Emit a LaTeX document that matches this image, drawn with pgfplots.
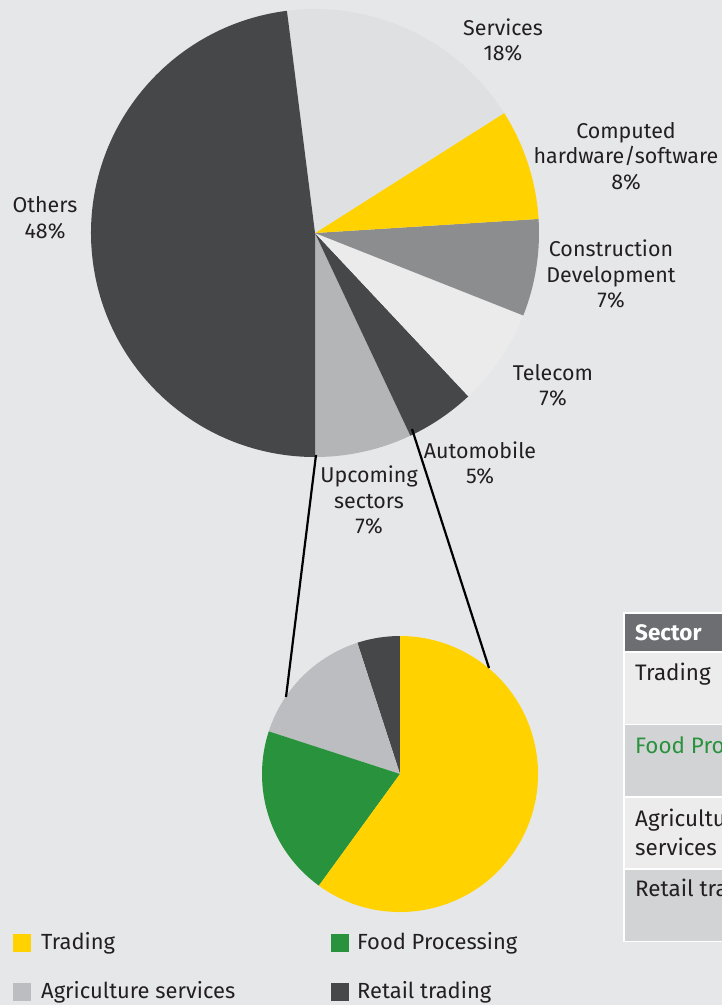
\documentclass[border=0pt]{standalone}
\usepackage{pgfplots}
\usepackage{pgfplotstable}
\pgfplotsset{compat=1.18}
\usepackage{fontspec}
\setmainfont{Fira Sans}

\definecolor{bg}{RGB}{230,231,233}
\definecolor{ink}{RGB}{35,31,32}
\definecolor{eydark}{RGB}{70,71,73}
\definecolor{eylight}{RGB}{223,224,226}
\definecolor{eyyellow}{RGB}{255,210,0}
\definecolor{eymid}{RGB}{140,141,143}
\definecolor{eypale}{RGB}{235,235,236}
\definecolor{eysilver}{RGB}{180,181,183}
\definecolor{eygreen}{RGB}{40,146,60}
\definecolor{eyagri}{RGB}{188,189,192}
\definecolor{hdr}{RGB}{109,110,113}
\definecolor{rowlight}{RGB}{236,236,237}
\definecolor{rowdark}{RGB}{210,211,213}

% main pie, counter-clockwise from the bottom
\pgfplotstableread{
sector share colour
Upcoming 7 eysilver
Automobile 5 eydark
Telecom 7 eypale
Construction 7 eymid
Computed 8 eyyellow
Services 18 eylight
Others 48 eydark
}\sectors

% breakdown of upcoming sectors, counter-clockwise from the top
\pgfplotstableread{
sector share colour
Retail 5 eydark
Agriculture 15 eyagri
Food 20 eygreen
Trading 60 eyyellow
}\upcoming

% #1 table, #2 cx, #3 cy, #4 radius, #5 start angle
\newcommand\drawpie[5]{%
  \pgfplotstablegetrowsof{#1}%
  \pgfmathtruncatemacro\lastrow{\pgfplotsretval-1}%
  \pgfmathsetmacro\angA{#5}%
  \pgfplotsforeachungrouped \rowi in {0,...,\lastrow}{%
    \pgfplotstablegetelem{\rowi}{share}\of{#1}\let\sh\pgfplotsretval
    \pgfplotstablegetelem{\rowi}{colour}\of{#1}\let\col\pgfplotsretval
    \pgfmathsetmacro\angB{\angA+3.6*\sh}%
    \edef\slice{\noexpand\fill[\col] (axis cs:#2,#3) -- ++(\angA:#4)
      arc[start angle=\angA, end angle=\angB, radius=#4] -- cycle;}%
    \slice
    \let\angA\angB
  }%
}

\begin{document}
\begin{tikzpicture}[every node/.style={text=ink, inner sep=0pt}]
\begin{axis}[
    at={(0,0)}, anchor=south west,
    scale only axis, width=722bp, height=1005bp,
    xmin=0, xmax=722, ymin=0, ymax=1005,
    y dir=reverse, hide axis, clip=false
]
\fill[bg] (axis cs:0,0) rectangle (axis cs:760,1005);

\drawpie{\sectors}{315}{233}{224bp}{-90}
\drawpie{\upcoming}{400}{774}{138bp}{90}

\draw[black, line width=2.2bp] (axis cs:316,455) -- (axis cs:286,697);
\draw[black, line width=2.2bp] (axis cs:412,429) -- (axis cs:489,668);

\begin{scope}[every node/.append style={align=center, font=\fontsize{21.5}{25.5}\selectfont}]
\node at (axis cs:503,40) {Services\\18\%};
\node at (axis cs:626,156) {Computed\\hardware/software\\8\%};
\node at (axis cs:611,274) {Construction\\Development\\7\%};
\node at (axis cs:553,385) {Telecom\\7\%};
\node at (axis cs:480,463) {Automobile\\5\%};
\node at (axis cs:369,500) {Upcoming\\sectors\\7\%};
\node at (axis cs:45,218) {Others\\48\%};
\end{scope}

% legend
\begin{scope}[every node/.append style={anchor=west, font=\fontsize{22}{26}\selectfont}]
\fill[eyyellow] (axis cs:13,934) rectangle (axis cs:31,952);
\node at (axis cs:41,943) {Trading};
\fill[eygreen] (axis cs:331,934) rectangle (axis cs:349,952);
\node at (axis cs:357,943) {Food Processing};
\fill[eyagri] (axis cs:13,983) rectangle (axis cs:31,1001);
\node at (axis cs:41,992) {Agriculture services};
\fill[eydark] (axis cs:331,983) rectangle (axis cs:349,1001);
\node at (axis cs:357,992) {Retail trading};
\end{scope}

% table, cut off at the right edge
\fill[white] (axis cs:623,612) rectangle (axis cs:760,942);
\fill[hdr] (axis cs:625,614) rectangle (axis cs:760,651);
\fill[rowlight] (axis cs:625,652.5) rectangle (axis cs:760,723.5);
\fill[rowdark] (axis cs:625,725) rectangle (axis cs:760,796);
\fill[rowlight] (axis cs:625,797.5) rectangle (axis cs:760,868);
\fill[rowdark] (axis cs:625,869.5) rectangle (axis cs:760,940.5);
\begin{scope}[every node/.append style={anchor=west, align=left, font=\fontsize{22.5}{29}\selectfont}]
\node[text=white, font=\fontsize{22.5}{28}\selectfont\bfseries] at (axis cs:635,633) {Sector};
\node at (axis cs:635,674) {Trading};
\node[text=eygreen] at (axis cs:635,747) {Food Processing};
\node at (axis cs:635,832) {Agriculture\\services};
\node at (axis cs:635,890) {Retail trading};
\end{scope}
\end{axis}
\pgfresetboundingbox
\useasboundingbox (0,0) rectangle (722bp,1005bp);
\end{tikzpicture}
\end{document}
